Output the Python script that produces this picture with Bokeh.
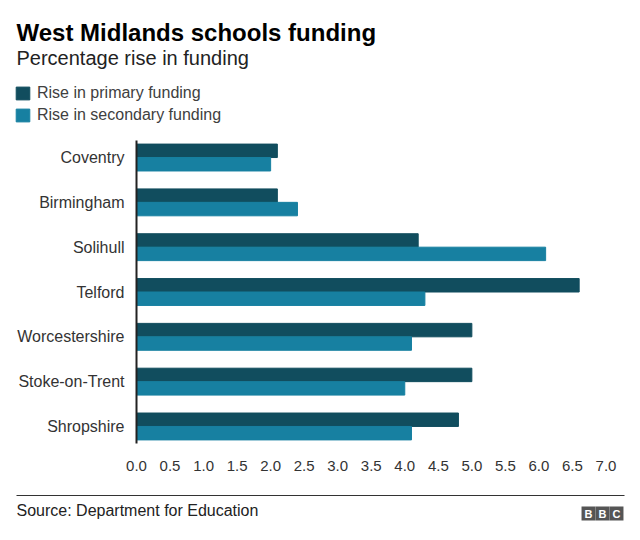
from bokeh.plotting import figure
from bokeh.layouts import column
from bokeh.models import (ColumnDataSource, FactorRange, Range1d, Label, Legend, LegendItem,
                          SingleIntervalTicker, PrintfTickFormatter, BoxAnnotation)
from bokeh.transform import dodge
from bokeh.embed import file_html
from bokeh.resources import INLINE

cities = ["Coventry", "Birmingham", "Solihull", "Telford",
          "Worcestershire", "Stoke-on-Trent", "Shropshire"]
primary = [2.1, 2.1, 4.2, 6.6, 5.0, 5.0, 4.8]
secondary = [2.0, 2.4, 6.1, 4.3, 4.1, 4.0, 4.1]
series_names = ["Rise in primary funding", "Rise in secondary funding"]
title_text = "West Midlands schools funding"
subtitle_text = "Percentage rise in funding"
source_text = "Source: Department for Education"
logo_letters = ["B", "B", "C"]
x_max = 7.276
tick_interval = 0.5

FONT = "Liberation Sans"
C_PRIMARY = "#114d5e"
C_SECONDARY = "#1780a1"
W = 640
H_HEAD, H_MAIN, H_FOOT = 135, 355, 50


def bare(height):
    f = figure(width=W, height=height, output_backend="svg", toolbar_location=None,
               x_axis_type=None, y_axis_type=None, min_border=0,
               x_range=Range1d(0, W), y_range=Range1d(0, height), frame_align=False)
    f.title.visible = False
    f.outline_line_color = None
    f.border_fill_color = "white"
    f.background_fill_color = "white"
    return f


def lab(fig, h, text, cx, cy, size, bold=False, color="#222222", **kw):
    fig.add_layout(Label(x=cx, y=h - cy, x_units="screen", y_units="screen", text=text,
                         text_font=FONT, text_font_size=size,
                         text_font_style="bold" if bold else "normal",
                         text_color=color, text_baseline="alphabetic", **kw))


# ---------------- header ----------------
head = bare(H_HEAD)
lab(head, H_HEAD, title_text, 16, 32, "24px", bold=True, color="#000000")
lab(head, H_HEAD, subtitle_text, 16, 57.5, "20px", color="#222222")
# legend proxies: zero-size bars kept outside the header's visible range
proxy = ColumnDataSource(dict(y=[-100], right=[0]))
d1 = head.hbar(y="y", left=0, right="right", height=0, fill_color=C_PRIMARY,
               line_color=C_PRIMARY, source=proxy)
d2 = head.hbar(y="y", left=0, right="right", height=0, fill_color=C_SECONDARY,
               line_color=C_SECONDARY, source=proxy)
legend = Legend(items=[LegendItem(label=series_names[0], renderers=[d1]),
                       LegendItem(label=series_names[1], renderers=[d2])],
                location=(14, H_HEAD - 124), orientation="vertical",
                glyph_width=17, glyph_height=16, label_height=13, spacing=4,
                padding=0, margin=0, label_standoff=6,
                border_line_color=None, background_fill_alpha=0,
                label_text_font=FONT, label_text_font_size="16px",
                label_text_color="#404040")
head.add_layout(legend)

# ---------------- main chart ----------------
src = ColumnDataSource(dict(city=cities, primary=primary, secondary=secondary))
TOP = 140 - H_HEAD
BOTTOM = 443 - H_HEAD
p = figure(width=W, height=H_MAIN, output_backend="svg", toolbar_location=None,
           y_range=FactorRange(factors=cities[::-1], range_padding=-0.12,
                               range_padding_units="absolute"),
           x_range=Range1d(0, x_max),
           min_border_left=136, min_border_right=16, min_border_top=TOP,
           min_border_bottom=H_MAIN - BOTTOM, frame_align=False)
p.title.visible = False
p.outline_line_color = None
p.grid.visible = False
p.border_fill_color = "white"

r1 = p.hbar(y=dodge("city", 0.15, range=p.y_range), left=0, right="primary", height=0.3,
            fill_color=C_PRIMARY, line_color=C_PRIMARY, source=src)
r2 = p.hbar(y=dodge("city", -0.15, range=p.y_range), left=0, right="secondary", height=0.3,
            fill_color=C_SECONDARY, line_color=C_SECONDARY, source=src)

xa = p.xaxis[0]
xa.ticker = SingleIntervalTicker(interval=tick_interval)
xa.formatter = PrintfTickFormatter(format="%.1f")
xa.axis_line_color = None
xa.major_tick_line_color = None
xa.minor_tick_line_color = None
xa.major_label_text_font = FONT
xa.major_label_text_font_size = "15px"
xa.major_label_text_color = "#333333"
xa.major_label_standoff = 11

ya = p.yaxis[0]
ya.axis_line_color = "#222222"
ya.axis_line_width = 2
ya.major_tick_line_color = None
ya.minor_tick_line_color = None
ya.major_label_text_font = FONT
ya.major_label_text_font_size = "16px"
ya.major_label_text_color = "#333333"
ya.major_label_standoff = 6

# ---------------- footer ----------------
foot = bare(H_FOOT)
foot.add_layout(BoxAnnotation(left=16, right=624, top=H_FOOT - 4.5, bottom=H_FOOT - 5.5,
                              left_units="screen", right_units="screen",
                              top_units="screen", bottom_units="screen",
                              fill_color="#333333", fill_alpha=1, line_color=None))
lab(foot, H_FOOT, source_text, 16, 19.5, "16px", color="#222222")
for letter, cx in zip(logo_letters, [588, 602, 616]):
    foot.add_layout(Label(x=cx, y=H_FOOT - 23, x_units="screen", y_units="screen",
                          text=letter, text_font=FONT, text_font_size="11px",
                          text_font_style="bold", text_color="white",
                          text_align="center", text_baseline="middle",
                          background_fill_color="#555555",
                          padding=dict(left=3, right=3, top=1, bottom=1)))

layout = column(head, p, foot, spacing=0)
open("out.html", "w").write(file_html(layout, INLINE))
